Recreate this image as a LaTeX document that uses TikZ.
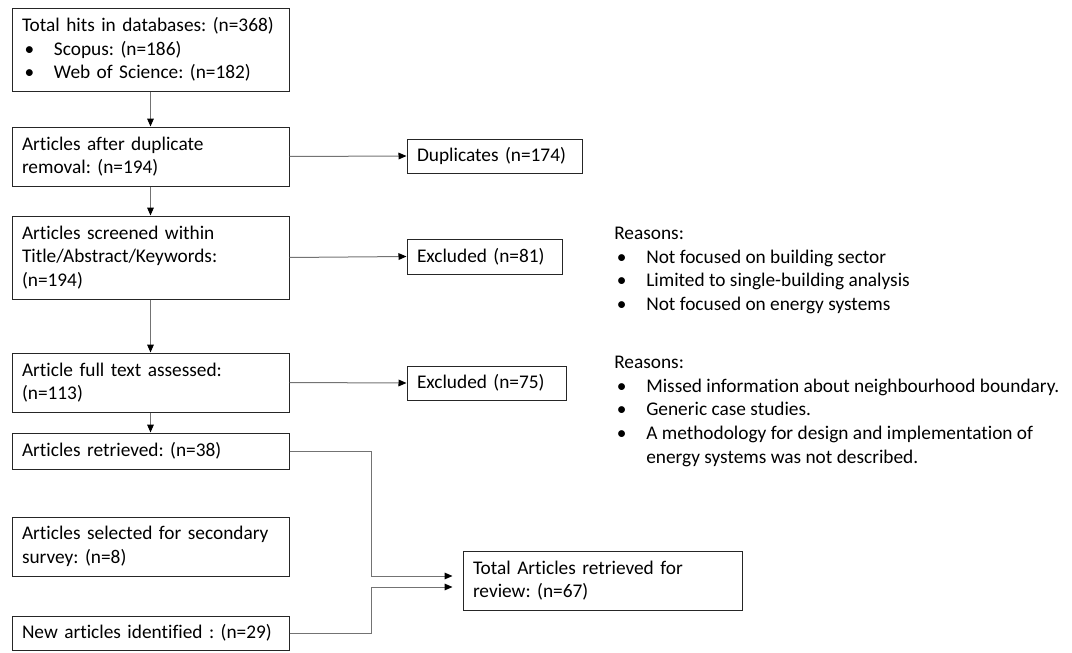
\documentclass[tikz,border=0pt]{standalone}
\usepackage{fontspec}
\setmainfont{Carlito}[Ligatures={NoCommon}]
\usetikzlibrary{arrows.meta}
\newcommand{\bul}[1]{\makebox[24pt][l]{\hspace{2pt}\textbullet}#1}
\begin{document}
\frenchspacing
\begin{tikzpicture}[x=0.75pt,y=-0.75pt,
  font=\fontsize{14.5}{17.7}\selectfont\frenchspacing,
  bx/.style={draw=black!85,line width=0.75pt,inner xsep=7.5pt,inner ysep=0pt,align=left},
  conn/.style={draw=black!55,line width=0.75pt,-{Triangle[length=6pt,width=5pt,fill=black,color=black]}},
  txt/.style={inner sep=0pt,anchor=north west,align=left}]
\useasboundingbox (0,0) rectangle (1072,653);
\node[bx,minimum width=207.75pt,minimum height=62.25pt,text width=192.75pt] (b1) at (150.5,49.5)
 {Total hits in databases: (n=368)\\\bul{Scopus: (n=186)}\\\bul{Web of Science: (n=182)}};
\node[bx,minimum width=207.75pt,minimum height=44.25pt,text width=192.75pt] (b2) at (150.5,156.5)
 {Articles after duplicate\\removal: (n=194)};
\node[bx,minimum width=207.75pt,minimum height=62.25pt,text width=192.75pt] (b3) at (150.5,257.5)
 {Articles screened within\\Title/Abstract/Keywords:\\(n=194)};
\node[bx,minimum width=207.75pt,minimum height=44.25pt,text width=192.75pt] (b4) at (150.5,382.5)
 {Article full text assessed:\\(n=113)};
\node[bx,minimum width=207.75pt,minimum height=27pt,text width=192.75pt] (b5) at (150.5,451)
 {Articles retrieved: (n=38)};
\node[bx,minimum width=207.75pt,minimum height=44.25pt,text width=192.75pt] (b6) at (150.5,546.5)
 {Articles selected for secondary\\survey: (n=8)};
\node[bx,minimum width=207.75pt,minimum height=25.5pt,text width=192.75pt] (b7) at (150.5,633)
 {New articles identified : (n=29)};
\node[bx,minimum width=131.25pt,minimum height=25.5pt,text width=116.25pt] (dup) at (494.5,156)
 {Duplicates (n=174)};
\node[bx,minimum width=116.25pt,minimum height=26.25pt,text width=101.25pt] (ex1) at (484.5,256.5)
 {Excluded (n=81)};
\node[bx,minimum width=119.25pt,minimum height=25.5pt,text width=104.25pt] (ex2) at (486.5,383)
 {Excluded (n=75)};
\node[bx,minimum width=209.25pt,minimum height=44.25pt,text width=194.25pt] (tot) at (602.5,580.5)
 {Total Articles retrieved for\\review: (n=67)};
\node[txt] (r1) at (614,227)
 {Reasons:\\\bul{Not focused on building sector}\\\bul{Limited to single-building analysis}\\\bul{Not focused on energy systems}};
\node[txt] (r2) at (614,356)
 {Reasons:\\\bul{Missed information about neighbourhood boundary.}\\\bul{Generic case studies.}\\\bul{A methodology for design and implementation of}\\\hspace{24pt}energy systems was not described.};
\draw[conn] (b1.south) -- (b2.north);
\draw[conn] (b2.south) -- (b3.north);
\draw[conn] (b3.south) -- (b4.north);
\draw[conn] (b4.south) -- (b5.north);
\draw[conn] (b2.east) -- (dup.west);
\draw[conn] (b3.east) -- (ex1.west);
\draw[conn] (b4.east) -- (ex2.west);
\coordinate (j1) at (371,576);
\coordinate (j2) at (371,587);
\draw[conn,shorten >=7.5pt] (b5.east) -| (j1) -- (j1 -| tot.west);
\draw[conn,shorten >=7.5pt] (b7.east) -| (j2) -- (j2 -| tot.west);
\end{tikzpicture}
\end{document}
